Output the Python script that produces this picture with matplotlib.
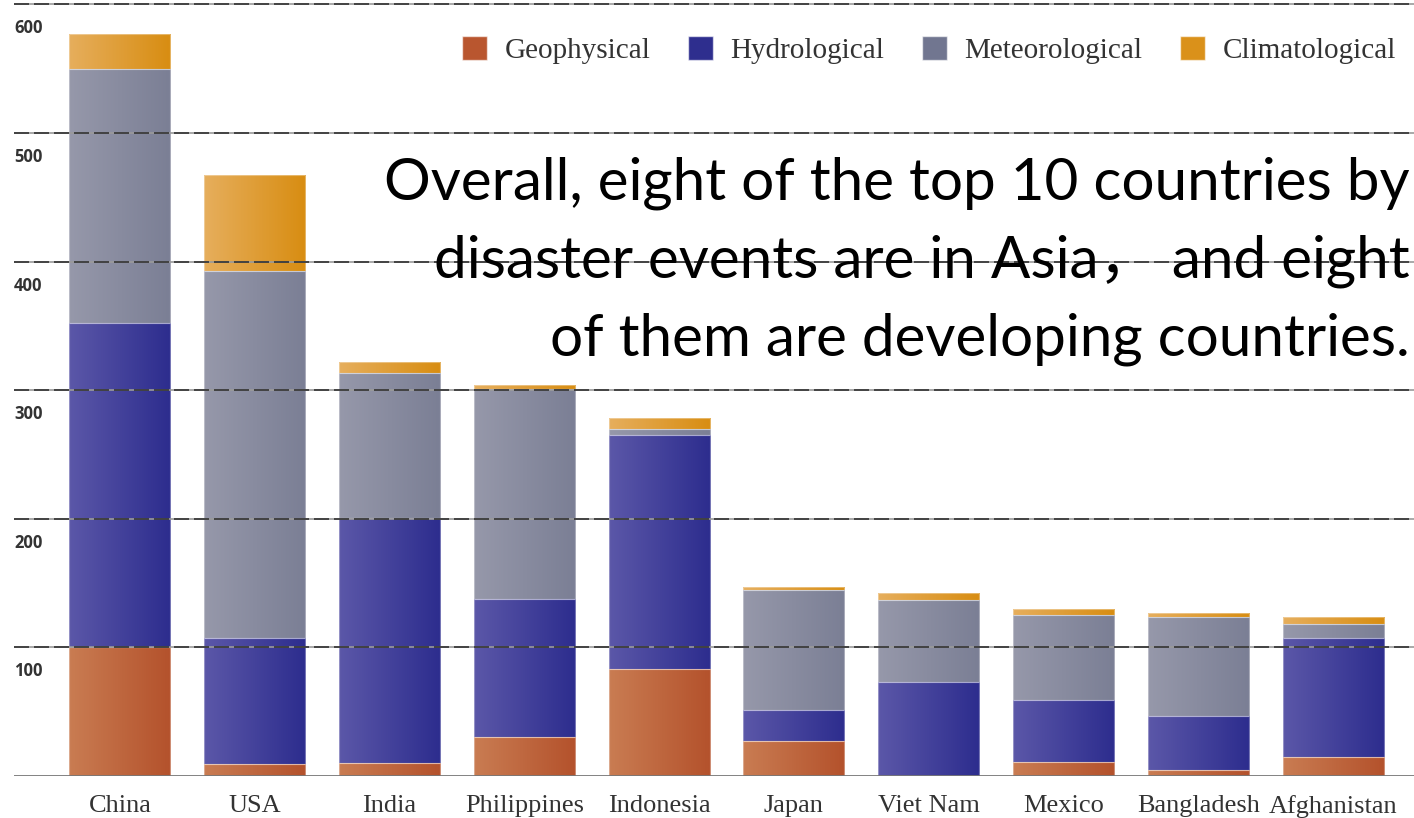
import numpy as np
import matplotlib
matplotlib.use("Agg")
import matplotlib.pyplot as plt
import matplotlib.transforms as mtransforms
from matplotlib.colors import LinearSegmentedColormap
from matplotlib.patches import Patch

# disaster events by country, split by disaster type
countries = ["China", "USA", "India", "Philippines", "Indonesia",
             "Japan", "Viet Nam", "Mexico", "Bangladesh", "Afghanistan"]
geophysical = [100, 9, 10, 30, 83, 27, 0, 11, 5, 15]
hydrological = [252, 98, 191, 108, 182, 24, 73, 48, 42, 92]
meteorological = [198, 286, 112, 163, 5, 94, 64, 66, 77, 11]
climatological = [27, 74, 9, 3, 8, 2, 5, 5, 3, 6]
y_ticks = [100, 200, 300, 400, 500, 600]

series = [
    ("Geophysical", geophysical, "#C97C52", "#B4522C", "#B9562F"),
    ("Hydrological", hydrological, "#5B57A8", "#2D2D8E", "#2E2E8E"),
    ("Meteorological", meteorological, "#9698AA", "#7B7F95", "#717690"),
    ("Climatological", climatological, "#E6AE5C", "#D88D12", "#DA911A"),
]

W, H = 1414, 818
fig = plt.figure(figsize=(W / 100, H / 100), dpi=100)
ax = fig.add_axes([14 / W, (H - 776) / H, 1 - 14 / W, 776 / H])

x = np.arange(len(countries))
bottom = np.zeros(len(countries))
grad = np.linspace(0, 1, 64).reshape(1, -1)
handles = []
for name, vals, c_left, c_right, c_legend in series:
    vals = np.array(vals, dtype=float)
    bars = ax.bar(x, vals, width=0.75, bottom=bottom, facecolor="none",
                  edgecolor=(1, 1, 1, 0.35), linewidth=0.8, zorder=2)
    cmap = LinearSegmentedColormap.from_list(name, [c_left, c_right])
    for p in bars.patches:
        if p.get_height() <= 0:
            continue
        x0, y0 = p.get_x(), p.get_y()
        im = ax.imshow(grad, cmap=cmap, aspect="auto", interpolation="bilinear",
                       extent=(x0, x0 + p.get_width(), y0, y0 + p.get_height()),
                       zorder=1)
        im.set_clip_path(p)
    bottom += vals
    handles.append(Patch(facecolor=c_legend, edgecolor=(1, 1, 1, 0.6), label=name))

ax.set_xlim(-0.786, 9.6)
ax.set_ylim(0, 603.4)

# dashed grid drawn over the bars
for t in y_ticks:
    ax.axhline(t, color="#9a9a9a", lw=1.2, zorder=3)
    ax.axhline(t, color="#333333", lw=1.2, ls=(0, (9, 3)), zorder=4)
ax.axhline(0, color="#777777", lw=2, zorder=4)

for s in ax.spines.values():
    s.set_visible(False)
ax.set_yticks([])
ax.set_xticks([])

# value labels sit just under each grid line
off = mtransforms.ScaledTranslation(0, -15 / 100, fig.dpi_scale_trans)
for t in y_ticks:
    ax.text(0, t, str(t), transform=ax.get_yaxis_transform() + off,
            ha="left", va="top", fontsize=12, fontweight="bold",
            family="Open Sans", color="#333333")

for i, c in enumerate(countries):
    ax.text(i, -15, c, ha="center", va="top", fontsize=19,
            family="Liberation Serif", color="#333333")

ax.legend(handles=handles, loc="upper right", bbox_to_anchor=(1.006, 0.987),
          ncol=4, frameon=False, handlelength=0.85, handleheight=0.85,
          handletextpad=0.6, columnspacing=1.3,
          prop={"family": "Liberation Serif", "size": 21}, labelcolor="#333333")

lines = ["Overall, eight of the top 10 countries by",
         "disaster events are in Asia\uff0c and eight",
         "of them are developing countries."]
for ln, yb in zip(lines, [200, 278, 355]):
    fig.text(1410 / W, 1 - yb / H, ln, ha="right", va="baseline",
             fontsize=42, family=["Lato", "Noto Sans CJK SC"], color="black")

fig.savefig("out.png", dpi=100)
